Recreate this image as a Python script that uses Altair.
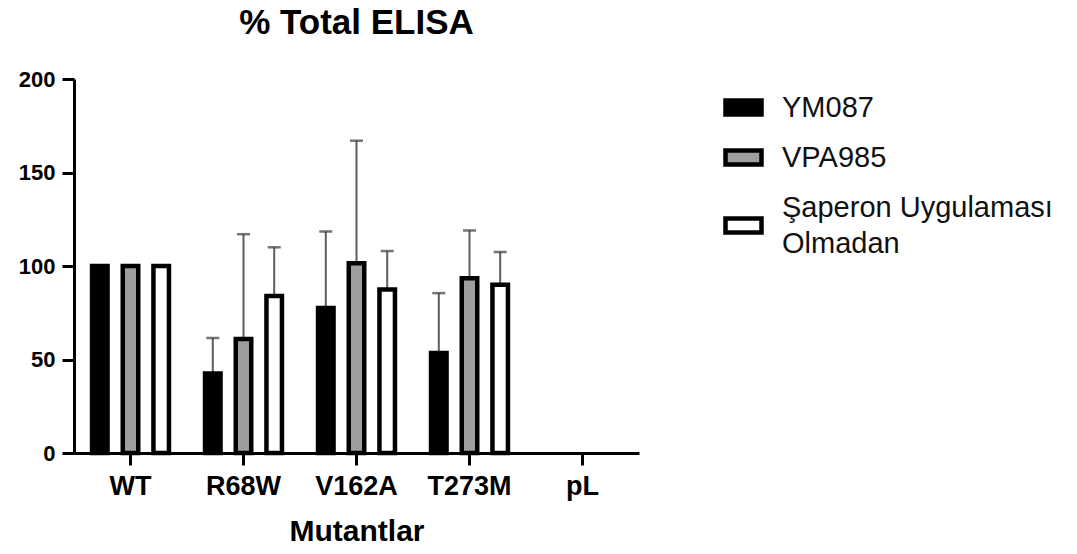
import altair as alt
import pandas as pd

categories = ["WT", "R68W", "V162A", "T273M", "pL"]
series = ["YM087", "VPA985", "Şaperon Uygulaması Olmadan"]
colors = ["#000000", "#9e9e9e", "#ffffff"]
outline_colors = ["#000000", "#000000", "#000000"]

ym087_mean = [100, 42.5, 77.5, 53.5, None]
ym087_err = [0, 19, 41, 32, None]
vpa985_mean = [100, 61, 101.5, 93.5, None]
vpa985_err = [0, 56, 65.5, 25.5, None]
saperon_mean = [100, 84, 87.5, 90, None]
saperon_err = [0, 26, 20.5, 17.5, None]

# legend swatch shapes (third one sits between the two lines of its label)
swatch_shapes = ["M-1,-0.39H1V0.39H-1Z", "M-1,-0.39H1V0.39H-1Z", "M-1,0.61H1V1.39H-1Z"]

rows = []
for s, means, errs in zip(series, [ym087_mean, vpa985_mean, saperon_mean],
                          [ym087_err, vpa985_err, saperon_err]):
    for c, m, e in zip(categories, means, errs):
        if m is None:
            continue
        rows.append({"cat": c, "series": s, "mean": m, "top": m + e, "err": e})
df = pd.DataFrame(rows)
df_err = df[df["err"] > 0]
df_none = df.iloc[0:0]

FONT = "Liberation Sans"

x_enc = alt.X("cat:N", sort=categories,
              scale=alt.Scale(domain=categories, paddingInner=0.28, paddingOuter=0.14),
              axis=alt.Axis(title="Mutantlar", labelAngle=0))
xoff = alt.XOffset("series:N", sort=series,
                   scale=alt.Scale(domain=series, paddingInner=0.495, paddingOuter=0.0725))
y_scale = alt.Scale(domain=[0, 200], nice=False)

legend = alt.Legend(
    title=None, orient="none", legendX=649, legendY=8,
    labelFontSize=29, labelFont=FONT, labelColor="#111",
    symbolType="M-1,-0.39H1V0.39H-1Z", symbolSize=1296,
    symbolStrokeColor="black", symbolStrokeWidth=4.5,
    symbolOpacity=1,
    rowPadding=13, labelOffset=18, labelLimit=500,
    labelExpr="datum.label == 'Şaperon Uygulaması Olmadan' ? ['Şaperon Uygulaması', 'Olmadan'] : datum.label",
)
color_enc = alt.Color("series:N", sort=series,
                      scale=alt.Scale(domain=series, range=colors), legend=legend)
stroke_enc = alt.Stroke("series:N", sort=series,
                        scale=alt.Scale(domain=series, range=outline_colors), legend=legend)

legend_keys = alt.Chart(df_none).mark_point(filled=True, size=1296, strokeWidth=4.5,
                                            opacity=1).encode(
    x=x_enc, xOffset=xoff,
    y=alt.Y("mean:Q", scale=y_scale),
    color=color_enc,
    stroke=stroke_enc,
    shape=alt.Shape("series:N", sort=series,
                    scale=alt.Scale(domain=series, range=swatch_shapes), legend=legend),
)

bars = alt.Chart(df).mark_bar(strokeWidth=4.5).encode(
    x=x_enc,
    xOffset=xoff,
    y=alt.Y("mean:Q", scale=y_scale,
            axis=alt.Axis(title=None, values=[0, 50, 100, 150, 200], grid=False)),
    color=color_enc,
    stroke=stroke_enc,
)

rules = alt.Chart(df_err).mark_rule(color="#5e5e5e", strokeWidth=2).encode(
    x=x_enc, xOffset=xoff,
    y=alt.Y("mean:Q", scale=y_scale),
    y2="top:Q",
)

caps = alt.Chart(df_err).mark_tick(color="#3a3a3a", thickness=2.5, size=13).encode(
    x=x_enc, xOffset=xoff,
    y=alt.Y("top:Q", scale=y_scale),
)

chart = alt.layer(legend_keys, rules, bars, caps).properties(
    width=565, height=374,
    title=alt.TitleParams("% Total ELISA", fontSize=35, font=FONT, fontWeight="bold",
                          anchor="middle", offset=27, color="#000"),
    autosize=alt.AutoSizeParams(type="none"),
    padding={"left": 74, "top": 79, "right": 438, "bottom": 101},
).configure(
    background="white", style={"guide-label": {"lineHeight": 36}}
).configure_view(stroke=None).configure_axis(
    domainColor="black", domainWidth=3, tickColor="black", tickWidth=3, tickSize=12,
    labelFont=FONT, labelFontWeight="bold", labelColor="#000",
    titleFont=FONT, titleFontWeight="bold", titleColor="#000",
).configure_axisX(
    labelFontSize=27, labelPadding=8, titleFontSize=30, titlePadding=17,
).configure_axisY(
    labelFontSize=22, labelPadding=7,
)

chart.save("out.html", embed_options={"renderer": "svg", "actions": False})
